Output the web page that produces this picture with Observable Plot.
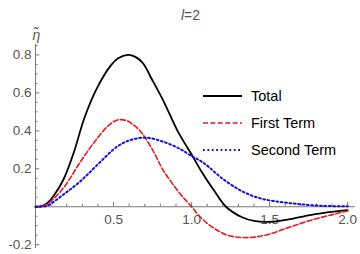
<!DOCTYPE html>
<html>
<head>
<meta charset="utf-8">
<script src="https://cdn.jsdelivr.net/npm/d3@7"></script>
<script src="https://cdn.jsdelivr.net/npm/@observablehq/plot@0.6"></script>
<style>
  html, body { margin: 0; padding: 0; background: #fff; }
  #chart { width: 360px; height: 254px; }
</style>
</head>
<body>
<div id="chart"></div>
<script>
// ---- data ----
const titleText = "l=2";
const yLabelText = "η̃";
const seriesNames = ["Total", "First Term", "Second Term"];

const totalX = [0, 0.04, 0.077, 0.12, 0.18, 0.247, 0.312, 0.397, 0.483, 0.53, 0.59, 0.64, 0.69, 0.74, 0.82, 0.91, 1.006, 1.06, 1.145, 1.22, 1.32, 1.40, 1.49, 1.62, 1.76, 1.91, 2.0];
const totalY = [0, 0.003, 0.02, 0.062, 0.145, 0.29, 0.465, 0.63, 0.745, 0.782, 0.80, 0.79, 0.755, 0.68, 0.557, 0.40, 0.267, 0.19, 0.084, 0, -0.054, -0.075, -0.08, -0.067, -0.044, -0.026, -0.018];

const firstX = [0, 0.04, 0.077, 0.18, 0.29, 0.40, 0.47, 0.525, 0.58, 0.63, 0.68, 0.75, 0.82, 0.93, 1.0, 1.06, 1.145, 1.23, 1.32, 1.40, 1.49, 1.62, 1.76, 1.91, 2.0];
const firstY = [0, 0.003, 0.015, 0.10, 0.24, 0.365, 0.43, 0.457, 0.455, 0.43, 0.39, 0.30, 0.19, 0.065, 0, -0.058, -0.114, -0.15, -0.162, -0.16, -0.146, -0.11, -0.072, -0.04, -0.022];

const secondX = [0, 0.04, 0.077, 0.18, 0.29, 0.40, 0.525, 0.61, 0.71, 0.82, 0.93, 1.0, 1.06, 1.11, 1.19, 1.32, 1.44, 1.57, 1.70, 1.83, 2.0];
const secondY = [0, 0.001, 0.006, 0.065, 0.136, 0.224, 0.318, 0.352, 0.364, 0.342, 0.303, 0.267, 0.24, 0.21, 0.153, 0.083, 0.044, 0.025, 0.013, 0.005, 0.002];

const xTickLabels = [0.5, 1.0, 1.5, 2.0];
const yTickLabels = [-0.2, 0.2, 0.4, 0.6, 0.8];
const xMajorTicks = [0.5, 1.0, 1.5, 2.0];
const xMinorTicks = [0.1,0.2,0.3,0.4,0.6,0.7,0.8,0.9,1.1,1.2,1.3,1.4,1.6,1.7,1.8,1.9];
const yMajorTicks = [-0.2, 0.2, 0.4, 0.6, 0.8];
const yMinorTicks = [-0.15,-0.1,-0.05,0.05,0.1,0.15,0.25,0.3,0.35,0.45,0.5,0.55,0.65,0.7,0.75,0.85];

// ---- build ----
const colors = ["#000000", "#e31a1c", "#1010d8"];
const dashes = [null, "5,2.4", "1.8,2.6"];
const widths = [1.8, 1.6, 2];
const xs = [totalX, firstX, secondX];
const ys = [totalY, firstY, secondY];
const table = seriesNames.map((name, i) => xs[i].map((x, j) => ({series: name, x, y: ys[i][j]})));

const font = "Liberation Sans, Arial, Helvetica, sans-serif";
const axisColor = "#777";
const labelColor = "#555";
const fmt = d => d.toFixed(1);

const plot = Plot.plot({
  width: 360,
  height: 254,
  marginLeft: 35,
  marginRight: 5,
  marginTop: 44,
  marginBottom: 6,
  style: {fontFamily: font, background: "#fff", overflow: "visible"},
  x: {domain: [0, 2.05], axis: null},
  y: {domain: [-0.22, 0.855], axis: null},
  marks: [
    Plot.ruleY([0], {stroke: axisColor, strokeWidth: 1}),
    Plot.ruleX([0], {stroke: axisColor, strokeWidth: 1}),
    Plot.ruleX(xMajorTicks, {x: d => d, y1: 0, y2: 0.022, stroke: axisColor}),
    Plot.ruleX(xMinorTicks, {x: d => d, y1: 0, y2: 0.014, stroke: axisColor}),
    Plot.ruleY(yMajorTicks, {y: d => d, x1: 0, x2: 0.028, stroke: axisColor}),
    Plot.ruleY(yMinorTicks, {y: d => d, x1: 0, x2: 0.016, stroke: axisColor}),
    Plot.text(xTickLabels, {x: d => d, y: 0, text: fmt, dy: 8, lineAnchor: "top", fill: labelColor, fontSize: 13.5}),
    Plot.text(yTickLabels, {x: 0, y: d => d, text: fmt, dx: -4, textAnchor: "end", fill: labelColor, fontSize: 13.5}),
    ...table.map((rows, i) => Plot.line(rows, {
      x: "x", y: "y", stroke: colors[i], strokeWidth: widths[i],
      strokeDasharray: dashes[i] ?? undefined, curve: "catmull-rom"
    })),
    Plot.text([titleText], {frameAnchor: "top", dx: -5, dy: -34, fill: labelColor, fontSize: 14}),
    Plot.text([yLabelText], {frameAnchor: "top-left", dx: -3, dy: -14, fill: labelColor, fontSize: 14, fontStyle: "italic"})
  ]
});

// italic "l" in the title
d3.select(plot).selectAll("text").each(function() {
  if (this.textContent === titleText) {
    const el = d3.select(this);
    el.text(null);
    el.append("tspan").attr("font-style", "italic").text(titleText.slice(0, 1));
    el.append("tspan").text(titleText.slice(1));
  }
});

// legend
const leg = d3.select(plot).append("g").attr("font-family", font).attr("font-size", 14.5).attr("text-anchor", "start");
seriesNames.forEach((name, i) => {
  const yy = 96 + i * 27;
  leg.append("line").attr("x1", 203).attr("x2", 242).attr("y1", yy).attr("y2", yy)
    .attr("stroke", colors[i]).attr("stroke-width", widths[i])
    .attr("stroke-dasharray", dashes[i]);
  leg.append("text").attr("x", 251).attr("y", yy).attr("dy", "0.35em")
    .attr("fill", "#000").text(name);
});

document.getElementById("chart").appendChild(plot);
</script>
</body>
</html>
